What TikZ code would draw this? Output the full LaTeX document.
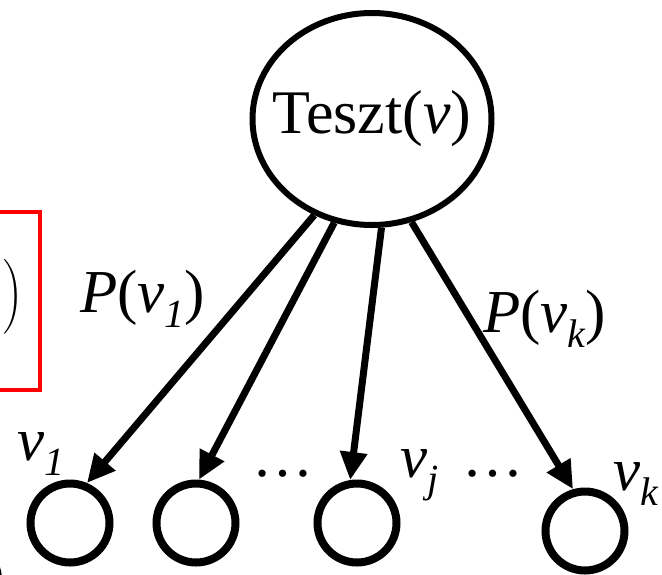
\documentclass[tikz,border=0pt]{standalone}
\usepackage{exscale}
\usepackage{fontspec}
\setmainfont{Liberation Serif}
\usetikzlibrary{shapes.geometric,arrows.meta}
\newcommand\subs[1]{\raisebox{-.25em}{\fontsize{40}{40}\selectfont\itshape #1}}
\begin{document}
\begin{tikzpicture}[x=1pt,y=-1pt,vert/.style={circle,draw,line width=8pt,minimum size=79pt,inner sep=0pt},lab/.style={anchor=base west,inner sep=0pt,font=\fontsize{61}{72}\selectfont},arr/.style={line width=7pt,-{Triangle[length=28pt,width=26pt]}}]
\path[use as bounding box,clip] (0,0) rectangle (662,574);
\node[ellipse,draw,line width=6pt,minimum width=239pt,minimum height=212pt,inner sep=0pt,label={[font=\fontsize{62}{72}\selectfont,inner sep=0pt]center:Teszt(\textit{v})}] (root) at (372,119) {};
\node[vert,line width=5pt] (c0) at (-40,580) {};
\node[vert] (c1) at (70,523) {};\node[vert] (c2) at (196,523) {};
\node[vert] (c3) at (357,523) {};\node[vert] (c4) at (585,531) {};
\draw[red,line width=3.5pt] (-30,212) rectangle (40,390);
\node[font=\fontsize{28}{30}\selectfont,inner sep=0pt] (rp) at (13,297) {$\Bigg)$};
\draw[arr] (root.239)--(c1.67);\draw[arr] (root.250)--(c2.86);
\draw[arr] (root.275)--(c3.99);\draw[arr] (root.291)--(c4.106);
\node[lab] (pv1) at (80,312) {\textit{P}(\textit{v}\subs{1})};
\node[lab] (pvk) at (483,332) {\textit{P}(\textit{v}\subs{k})};
\node[lab] (v1) at (17,460) {\textit{v}\subs{1}};
\node[lab] (vj) at (400,477) {\textit{v}\subs{j}};
\node[lab] (vk) at (613,490) {\textit{v}\subs{k}};
\node[lab] (d1) at (252,476) {…};\node[lab] (d2) at (462,476) {…};
\end{tikzpicture}
\end{document}
